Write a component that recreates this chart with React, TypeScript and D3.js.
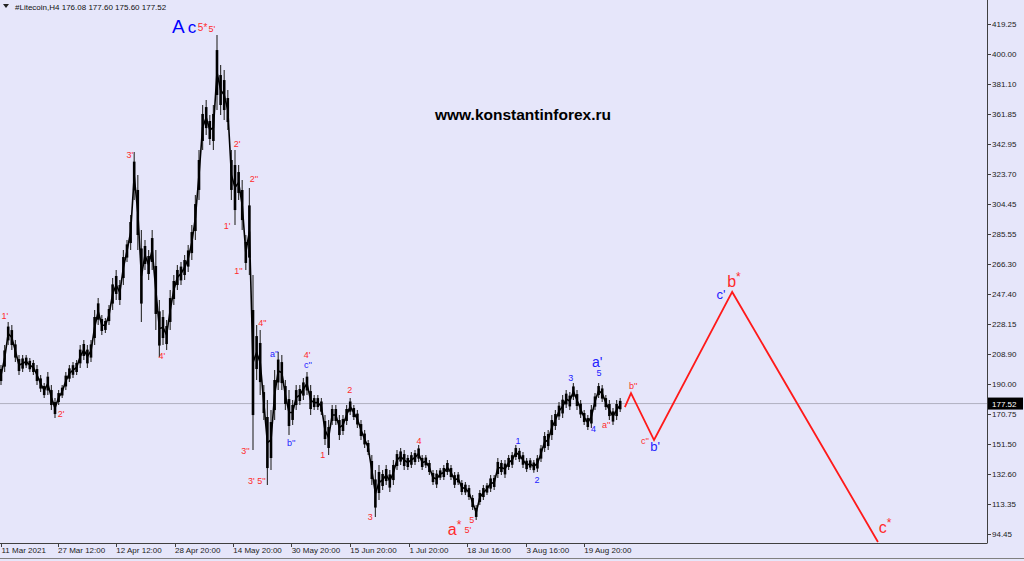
import React from 'react';
import * as d3 from 'd3';

// ---- data (H4 Litecoin, read per ~1 day column) ----
const highs = [202.1,214.8,229.5,227.5,218.0,208.4,208.4,208.4,206.5,205.3,
  202.1,195.7,190.6,197.6,189.3,181.0,186.1,189.3,197.6,202.1,
  204.0,205.3,214.8,218.0,214.8,218.0,237.1,244.8,233.9,232.0,
  240.3,257.5,262.6,256.2,275.3,281.7,297.6,337.7,323.1,288.0,
  281.7,275.3,288.0,275.3,243.5,237.1,230.7,249.8,259.4,265.8,
  267.7,272.1,278.5,291.2,310.3,339.0,367.7,370.8,361.3,367.7,
  412.2,393.1,389.9,377.2,339.0,339.0,329.4,319.9,284.9,314.8,
  259.4,227.5,224.4,189.3,179.8,173.4,198.9,210.4,208.4,192.5,
  186.1,179.8,189.3,189.3,193.8,197.6,189.3,182.9,182.9,181.0,
  170.2,167.0,176.6,176.6,170.2,170.2,176.6,181.0,176.6,173.4,
  167.0,160.7,154.3,144.8,135.2,138.4,135.2,138.4,135.2,141.6,
  147.9,149.2,147.9,144.8,146.7,147.9,151.1,144.8,144.8,141.6,
  135.2,135.2,136.5,138.4,141.6,138.4,134.0,134.0,128.8,127.5,
  125.6,119.3,112.9,122.5,125.6,126.9,132.0,132.0,142.9,141.6,
  141.6,144.8,146.7,151.1,149.2,146.7,142.9,142.9,141.6,144.8,
  151.1,159.4,160.7,170.2,173.4,178.5,182.9,186.1,184.9,190.6,
  186.1,179.8,173.4,170.2,176.6,184.2,190.6,189.3,182.9,179.8,
  174.7,179.8,181.0];
const lows = [189.3,197.6,214.8,211.6,204.0,195.7,197.6,200.2,197.6,195.7,
  189.3,184.9,181.0,182.9,173.4,168.3,176.6,181.0,186.1,191.2,
  193.8,195.7,200.2,205.3,200.2,204.0,214.8,227.5,221.2,222.5,
  227.5,237.1,243.5,240.3,253.0,267.7,275.3,307.2,275.3,229.5,
  262.6,256.2,262.6,224.4,207.2,214.8,211.6,224.4,240.3,249.8,
  253.0,256.2,261.3,268.9,281.7,307.2,339.0,348.5,342.2,339.0,
  364.5,361.3,358.1,351.7,307.2,291.2,307.2,288.0,262.6,259.4,
  147.9,192.5,182.9,167.0,125.6,135.2,167.0,186.1,186.1,173.4,
  157.5,163.9,173.4,176.6,179.8,182.9,170.2,173.4,173.4,170.2,
  151.1,144.8,163.9,163.9,154.3,157.5,163.9,170.2,167.0,161.9,
  154.3,149.2,144.8,125.6,105.3,116.1,122.5,125.6,121.2,125.6,
  135.2,138.4,135.2,135.2,136.5,138.4,140.3,135.2,136.5,132.0,
  125.6,123.7,128.8,128.8,132.0,128.8,123.7,125.6,119.3,119.3,
  116.1,109.7,103.4,112.9,116.1,119.3,121.2,122.5,130.1,132.0,
  130.1,135.2,136.5,141.6,140.3,136.5,134.0,135.2,133.5,134.0,
  140.3,146.7,147.9,154.3,160.7,167.0,168.3,174.7,173.4,179.8,
  173.4,168.3,163.9,160.7,161.9,173.4,181.0,178.5,173.4,167.0,
  163.9,167.0,172.1];

const lastPrice = 177.52;
const headerText = '#Litecoin,H4  176.08 177.60 175.60 177.52';

// projected path (index, price)
const projIdx = [173.3, 175.0, 181.4, 203.1, 243.6];
const projPrice = [175.3, 184.2, 154.3, 248.6, 89.4];

const yTicks = [419.25, 400.00, 381.10, 361.85, 342.95, 323.70, 304.45, 285.55, 266.30, 247.40, 228.15, 208.90, 190.00, 170.75, 151.50, 132.60, 113.35, 94.45];
const xTickIdx = [0, 15.7, 31.9, 48.2, 64.4, 80.6, 96.9, 113.3, 129.4, 145.8, 161.9];
const xTickLabels = ['11 Mar 2021', '27 Mar 12:00', '12 Apr 12:00', '28 Apr 20:00', '14 May 20:00', '30 May 20:00', '15 Jun 20:00', '1 Jul 20:00', '18 Jul 16:00', '3 Aug 16:00', '19 Aug 20:00'];

// wave labels: [index, price, text, star, colour, size]
const RED = '#ff2b2b';
const BLUE = '#2222ff';
const waveLabels: [number, number, string, boolean, string, number][] = [
  [1.1, 232.6, "1'", false, RED, 9],
  [16.7, 170.2, "2'", false, RED, 9],
  [35.8, 335.2, "3'", false, RED, 9],
  [44.7, 207.2, "4'", false, RED, 9],
  [56.0, 416.7, '5*', false, RED, 10],
  [58.6, 415.4, "5'", false, RED, 9],
  [65.6, 342.2, "2'", false, RED, 9],
  [62.8, 290.0, "1'", false, RED, 9],
  [70.3, 319.9, "2''", false, RED, 9],
  [66.0, 261.3, "1''", false, RED, 9],
  [72.6, 228.2, "4''", false, RED, 9],
  [67.9, 146.7, "3''", false, RED, 9],
  [71.1, 127.5, "3' 5''", false, RED, 9],
  [75.9, 208.4, "a''", false, BLUE, 9],
  [80.6, 151.8, "b''", false, BLUE, 9],
  [85.0, 207.8, "4'", false, RED, 9],
  [85.3, 201.4, "c''", false, BLUE, 9],
  [96.9, 185.5, '2', false, RED, 9],
  [89.4, 144.1, '1', false, RED, 9],
  [102.6, 104.6, '3', false, RED, 9],
  [116.1, 153.0, '4', false, RED, 9],
  [130.8, 102.7, '5', false, RED, 9],
  [129.7, 96.4, "5'", false, RED, 9],
  [143.6, 153.0, '1', false, BLUE, 9],
  [148.9, 128.5, '2', false, BLUE, 9],
  [158.3, 193.2, '3', false, BLUE, 9],
  [164.6, 160.8, '4', false, BLUE, 9],
  [166.1, 196.3, '5', false, BLUE, 9],
  [168.1, 163.2, "a''", false, RED, 9],
  [175.6, 188.0, "b''", false, RED, 9],
  [178.9, 153.0, "c''", false, RED, 9],
  [165.6, 203.4, "a'", false, BLUE, 14],
  [181.7, 149.2, "b'", false, BLUE, 13],
  [200.0, 246.6, "c'", false, BLUE, 13],
  [126.0, 96.4, 'a', true, RED, 16],
  [203.6, 254.3, 'b', true, RED, 16],
  [245.6, 97.6, 'c', true, RED, 16],
];

const FONT = '"Liberation Sans", Arial, sans-serif';

export default function App() {
  const x = d3.scaleLinear().domain([0, 250]).range([1, 901]);
  const y = d3.scaleLinear().domain([94.45, 419.25]).range([534, 24]);
  const plotR = 987;
  const plotB = 543;

  const mid = highs.map((h, i) => (h + lows[i]) / 2);
  const midLine = d3.line<number>().x((_, i) => x(i)).y((d) => y(d))(mid) || '';
  const proj = d3.line<number>().x((d) => x(d)).y((_, i) => y(projPrice[i]))(projIdx) || '';

  return (
    <svg width={1024} height={561} style={{ position: 'absolute', left: 0, top: 0, background: '#e6e6fa' }} fontFamily={FONT}>
      <rect x={0} y={0} width={1024} height={561} fill="#e6e6fa" />
      {/* current price line */}
      <line x1={0} x2={plotR} y1={y(lastPrice)} y2={y(lastPrice)} stroke="#b0b0c0" strokeWidth={1} />
      {/* price bars: full range as thin wick, core as body */}
      {highs.map((h, i) => (
        <line key={'w' + i} x1={x(i)} x2={x(i)} y1={y(h)} y2={y(lows[i])} stroke="#3a3a3a" strokeWidth={1.2} />
      ))}
      <path d={midLine} fill="none" stroke="#000" strokeWidth={1.6} />
      {highs.map((h, i) => {
        const top = y(h), bot = y(lows[i]);
        const pad = (bot - top) * 0.2;
        return <rect key={i} x={x(i) - 1.3} width={2.6} y={top + pad} height={Math.max(1, bot - top - 2 * pad)} fill="#000" />;
      })}
      {/* projection */}
      <path d={proj} fill="none" stroke="#ff1a1a" strokeWidth={1.8} />
      {/* watermark */}
      <text x={523} y={120} textAnchor="middle" fontSize={15.5} fontWeight="bold" fill="#000">www.konstantinforex.ru</text>
      {/* big A c */}
      <text x={x(47.5)} y={y(413.3)} fontSize={19} fill="#0000ff">A</text>
      <text x={x(51.9)} y={y(413.3)} fontSize={17} fill="#0000ff">c</text>
      {/* wave labels */}
      {waveLabels.map(([i, p, t, star, c, s], k) => (
        <text key={k} x={x(i)} y={y(p)} textAnchor="middle" dominantBaseline="middle" fontSize={s} fill={c}>
          {t}
          {star ? <tspan dy={-s * 0.3} fontSize={s * 0.75}>*</tspan> : null}
        </text>
      ))}
      {/* axes frame */}
      <line x1={plotR + 0.5} x2={plotR + 0.5} y1={0} y2={plotB} stroke="#404040" />
      <line x1={0} x2={plotR + 0.5} y1={plotB + 0.5} y2={plotB + 0.5} stroke="#404040" />
      <line x1={0} x2={1024} y1={558.5} y2={558.5} stroke="#808080" />
      {yTicks.map((t) => (
        <g key={t}>
          <line x1={plotR} x2={plotR + 4} y1={Math.round(y(t)) + 0.5} y2={Math.round(y(t)) + 0.5} stroke="#404040" />
          <text x={plotR + 5} y={y(t) + 3} fontSize={8} fill="#222">{t.toFixed(2)}</text>
        </g>
      ))}
      {/* last price box */}
      <rect x={plotR + 1} y={y(lastPrice) - 6} width={35} height={12} fill="#000" />
      <text x={plotR + 5} y={y(lastPrice) + 3} fontSize={8} fill="#fff">{lastPrice.toFixed(2)}</text>
      {xTickIdx.map((t, k) => (
        <g key={k}>
          <line x1={Math.round(x(t)) + 0.5} x2={Math.round(x(t)) + 0.5} y1={plotB} y2={plotB + 4} stroke="#404040" />
          <text x={x(t) + 0.5} y={553} fontSize={8} fill="#222">{xTickLabels[k]}</text>
        </g>
      ))}
      {/* header */}
      <path d="M3,4 L9,4 L6,8 Z" fill="#222" />
      <text x={15} y={10} fontSize={8} fill="#111">{headerText}</text>
    </svg>
  );
}
